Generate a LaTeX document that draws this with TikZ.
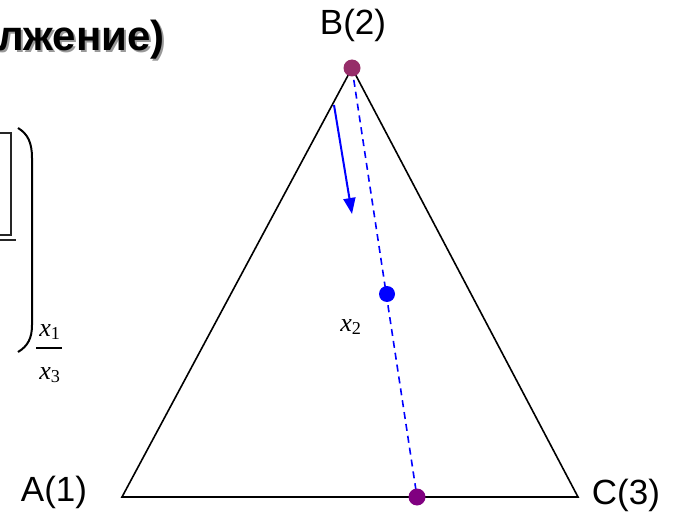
\documentclass[tikz,border=0pt]{standalone}
\usepackage{fontspec}
\setmainfont{Liberation Sans}
\newfontfamily\serifit{Liberation Serif}
\usetikzlibrary{arrows.meta}
\definecolor{plumdot}{RGB}{150,45,105}
\definecolor{violetdot}{RGB}{128,0,128}
\definecolor{lineblue}{RGB}{0,0,255}
\newcommand{\shadowtext}[1]{\makebox[0pt][l]{\hspace{2pt}\raisebox{-2pt}{\color{black!40}#1}}#1}
\tikzset{
  lbl/.style={inner sep=0pt, font=\fontsize{35}{35}\selectfont},
  dot/.style={circle, inner sep=0pt, minimum size=17pt},
  edge/.style={line width=1.6pt, black},
  mathlbl/.style={inner sep=0pt, font=\serifit\itshape\fontsize{26}{26}\selectfont},
}
\begin{document}
\begin{tikzpicture}[x=1pt,y=1pt]
\useasboundingbox (0,0) rectangle (675,-516);
% title with shadow
\node[anchor=base east, inner sep=0pt, font=\bfseries\fontsize{42}{42}\selectfont] (title) at (165,-51) {\shadowtext{лжение)}};
% left fragment: box edge and bracket
\draw[line width=1.6pt, black!85] (0,-133) -- (11,-133) -- (11,-235) -- (0,-235);
\draw[line width=1.4pt, black!85] (0,-240) -- (16,-240);
\draw[line width=2pt] (18,-128) .. controls (28,-134) and (32,-143) .. (32,-158) -- (32,-325) .. controls (32,-338) and (28,-346) .. (18,-352);
\node[mathlbl] (x1) at (50,-332) {x\textsubscript{\upshape 1}};
\draw[line width=1.2pt] (36,-348) -- (62,-348);
\node[mathlbl] (x3) at (50,-375) {x\textsubscript{\upshape 3}};
% triangle
\coordinate (A) at (122,-497);
\coordinate (C) at (578,-497);
\coordinate (B) at (352,-68);
\draw[edge, line join=miter] (B) -- (A) -- (C) -- cycle;
% labels
\node[lbl] (la) at (54,-492) {A(1)};
\node[lbl] (lc) at (626,-495) {C(3)};
\node[lbl] (lb) at (353,-25) {B(2)};
% dashed line and dots
\coordinate (P) at (417,-497);
\draw[lineblue, line width=1.6pt, dash pattern=on 7pt off 5pt] (B) -- (P);
\node[dot, fill=plumdot] (db) at (B) {};
\node[dot, fill=violetdot] (dp) at (P) {};
\node[dot, fill=lineblue, minimum size=16pt] (dm) at (387,-294) {};
\node[mathlbl] (x2) at (351,-327) {x\textsubscript{\upshape 2}};
% arrow
\coordinate (ars) at (334,-105);
\coordinate (are) at (352,-214);
\draw[lineblue, line width=2pt, -{Triangle[length=16pt,width=12pt]}] (ars) -- (are);
\end{tikzpicture}
\end{document}
